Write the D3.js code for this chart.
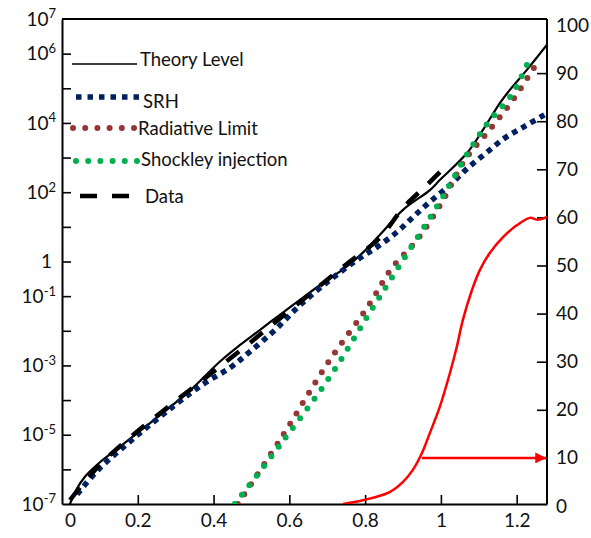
<!DOCTYPE html>
<html>
<head>
<meta charset="utf-8">
<script src="https://cdn.jsdelivr.net/npm/d3@7"></script>
<style>
  body { margin: 0; background: #fff; }
  text { font-family: Lato, "Open Sans", sans-serif; }
</style>
</head>
<body>
<svg class="d3-svg"></svg>
<script>
// voltage (x) and current (left, log) for each curve
let theoryV = [0.018, 0.034, 0.061, 0.10, 0.153, 0.193, 0.259, 0.338, 0.417, 0.47, 0.522, 0.575, 0.628, 0.681, 0.747, 0.794, 0.839, 0.90, 0.971, 0.997, 1.069, 1.111, 1.156, 1.182, 1.227, 1.28];
let theoryI = [8e-8, 2.2e-7, 6.2e-7, 1.6e-6, 4.5e-6, 1.0e-5, 3.7e-5, 1.9e-4, 1.3e-3, 3.9e-3, 1.05e-2, 2.9e-2, 7.8e-2, 0.21, 0.65, 1.8, 5.9, 31, 115, 224, 1350, 6300, 3.8e4, 9e4, 3.4e5, 1.8e6];

let srhV = [0.04, 0.095, 0.193, 0.298, 0.377, 0.443, 0.496, 0.562, 0.628, 0.707, 0.778, 0.831, 0.884, 0.926, 0.971, 1.024, 1.071, 1.119, 1.169, 1.222, 1.28];
let srhI = [1.9e-7, 9.6e-7, 8.5e-6, 7.2e-5, 3.1e-4, 8.5e-4, 2.5e-3, 1.05e-2, 5.5e-2, 0.29, 1.1, 2.6, 7.1, 19, 53, 162, 500, 1350, 3700, 8100, 1.9e4];

let radV = [0.464, 0.575, 0.707, 0.805, 0.871, 0.937, 1.003, 1.063, 1.124, 1.19, 1.253];
let radI = [1e-7, 7e-6, 1.45e-3, 4.6e-2, 0.65, 4.2, 52, 850, 5500, 4.6e4, 5.3e5];

let shockV = [0.456, 0.575, 0.707, 0.805, 0.871, 0.939, 1.005, 1.071, 1.124, 1.187, 1.227];
let shockI = [1e-7, 5e-6, 4.7e-4, 2.5e-2, 0.35, 5.1, 73, 1350, 1e4, 6.5e4, 4.7e5];

let dataV = [0.021, 0.10, 0.193, 0.364, 0.496, 0.628, 0.76, 0.839, 0.90, 0.963, 1.024];
let dataI = [1.3e-7, 1.35e-6, 1.1e-5, 3.3e-4, 4.5e-3, 6.8e-2, 1.0, 4.8, 35, 162, 740];

// red curve, right axis
let redV = [0.741, 0.794, 0.865, 0.90, 0.926, 0.95, 0.971, 0.997, 1.024, 1.042, 1.058, 1.082, 1.103, 1.129, 1.164, 1.201, 1.235, 1.256, 1.28];
let redY = [0.4, 1.2, 2.9, 5.0, 7.5, 11.0, 15.2, 20.6, 27.7, 33.1, 38.7, 44.9, 49.1, 52.6, 55.9, 58.4, 59.9, 59.5, 60.1];

let arrowV = [0.95, 1.278];
let arrowY = 10;

let xTicks = [0, 0.2, 0.4, 0.6, 0.8, 1, 1.2];
let leftTicks = d3.range(-7, 8).map(e => Math.pow(10, e));
let leftLabels = [7, 6, 4, 2, 0, -1, -3, -5, -7];
let rightTicks = d3.range(0, 101, 10);

let legendNames = ["Theory Level", "SRH", "Radiative Limit", "Shockley injection", "Data"];

let width  = 591;
let height = 538;
let svg    = d3.select(".d3-svg").attr("width", width).attr("height", height);

let x  = d3.scaleLinear().domain([0, 1.28]).range([62, 547]);
let y  = d3.scaleLog().domain([1e-7, 1e7]).range([504, 19]);
let yR = d3.scaleLinear().domain([0, 100]).range([506, 25]);

svg.append("defs").append("clipPath").attr("id", "plot")
  .append("rect").attr("x", 62).attr("y", 19).attr("width", 485).attr("height", 485);

svg.append("defs").append("marker")
  .attr("id", "head")
  .attr("viewBox", "0 0 10 10")
  .attr("refX", 10).attr("refY", 5)
  .attr("markerWidth", 6).attr("markerHeight", 4.4)
  .attr("markerUnits", "strokeWidth")
  .attr("orient", "auto")
  .append("path").attr("d", "M0,0L10,5L0,10Z").attr("fill", "#ff0000");

// frame top
svg.append("line")
  .attr("x1", 62).attr("x2", 547).attr("y1", 19).attr("y2", 19)
  .attr("stroke", "#000").attr("stroke-width", 2);

function styleAxis(g) {
  g.select(".domain").attr("stroke-width", 2);
  g.selectAll(".tick line").attr("stroke-width", 1.6);
  g.selectAll("text").attr("font-size", 19).attr("fill", "#111");
}

let gx = svg.append("g").attr("transform", "translate(0,504)")
  .call(d3.axisBottom(x).tickValues(xTicks).tickSizeInner(-9).tickSizeOuter(0).tickPadding(10)
    .tickFormat(d => d3.format("")(d)))
  .call(styleAxis);
gx.selectAll(".tick").filter(d => d === 0).select("line").remove();
gx.selectAll(".tick").filter(d => d === 0).select("text").attr("dx", 8);

let gl = svg.append("g").attr("transform", "translate(62,0)")
  .call(d3.axisLeft(y).tickValues(leftTicks).tickSizeInner(-9).tickSizeOuter(0).tickPadding(6)
    .tickFormat(() => ""))
  .call(styleAxis);
gl.selectAll(".tick").filter(d => d === 1e-7 || d === 1e7).select("line").remove();
gl.selectAll(".tick text").each(function(d) {
  let e = Math.round(Math.log10(d));
  let t = d3.select(this);
  if (leftLabels.indexOf(e) < 0) return;
  if (e === 0) { t.text("1").attr("dx", -4); return; }
  t.append("tspan").text("10");
  t.append("tspan").attr("dy", "-0.55em").attr("font-size", 13).text(e);
});

let gr = svg.append("g").attr("transform", "translate(547,0)")
  .call(d3.axisRight(yR).tickValues(rightTicks).tickSizeInner(-10).tickSizeOuter(0).tickPadding(9))
  .call(styleAxis);
gr.selectAll(".tick").filter(d => d === 0 || d === 100).select("line").remove();
gr.select(".domain").attr("d", "M0,19V504");

let line = d3.line()
  .x(d => x(d[0]))
  .y(d => y(d[1]))
  .curve(d3.curveCatmullRom);

let lineR = d3.line()
  .x(d => x(d[0]))
  .y(d => yR(d[1]))
  .curve(d3.curveCatmullRom);

let plot = svg.append("g").attr("clip-path", "url(#plot)");

plot.append("path")
  .attr("fill", "none").attr("stroke", "#ff0000").attr("stroke-width", 2.5)
  .attr("d", lineR(d3.zip(redV, redY)));

plot.append("path")
  .attr("fill", "none").attr("stroke", "#000").attr("stroke-width", 2.2)
  .attr("d", line(d3.zip(theoryV, theoryI)));

plot.append("path")
  .attr("fill", "none").attr("stroke", "#002060").attr("stroke-width", 5.5)
  .attr("stroke-dasharray", "5.5 5")
  .attr("d", line(d3.zip(srhV, srhI)));

plot.append("path")
  .attr("fill", "none").attr("stroke", "#953735").attr("stroke-width", 6)
  .attr("stroke-linecap", "round").attr("stroke-dasharray", "0 12")
  .attr("d", line(d3.zip(radV, radI)));

plot.append("path")
  .attr("fill", "none").attr("stroke", "#00b050").attr("stroke-width", 6)
  .attr("stroke-linecap", "round").attr("stroke-dasharray", "0 12")
  .attr("d", line(d3.zip(shockV, shockI)));

plot.append("path")
  .attr("fill", "none").attr("stroke", "#000").attr("stroke-width", 4.5)
  .attr("stroke-dasharray", "16 14")
  .attr("d", line(d3.zip(dataV, dataI)));

svg.append("line")
  .attr("x1", x(arrowV[0])).attr("x2", x(arrowV[1]))
  .attr("y1", yR(arrowY)).attr("y2", yR(arrowY))
  .attr("stroke", "#ff0000").attr("stroke-width", 2.5)
  .attr("marker-end", "url(#head)");

// legend
let legendStyles = [
  { stroke: "#000", width: 1.6, dash: null, cap: "butt", x1: 72, x2: 137, y: 64 },
  { stroke: "#002060", width: 5.5, dash: "5.5 6", cap: "butt", x1: 76, x2: 140, y: 97 },
  { stroke: "#953735", width: 6, dash: "0 12.2", cap: "round", x1: 73, x2: 135, y: 128 },
  { stroke: "#00b050", width: 6, dash: "0 12.2", cap: "round", x1: 76, x2: 138, y: 161 },
  { stroke: "#000", width: 4.5, dash: "17 15", cap: "butt", x1: 80, x2: 131, y: 196 }
];
let textX = [140, 143, 138, 141, 145];
let textY = [60, 102, 129, 160, 197];

let legend = svg.append("g");
legendNames.forEach((name, i) => {
  let s = legendStyles[i];
  legend.append("line")
    .attr("x1", s.x1).attr("x2", s.x2).attr("y1", s.y).attr("y2", s.y)
    .attr("stroke", s.stroke).attr("stroke-width", s.width)
    .attr("stroke-linecap", s.cap)
    .attr("stroke-dasharray", s.dash);
  legend.append("text")
    .attr("x", textX[i]).attr("y", textY[i]).attr("dy", "0.35em")
    .attr("font-size", 18.5).attr("fill", "#111")
    .text(name);
});
</script>
</body>
</html>
